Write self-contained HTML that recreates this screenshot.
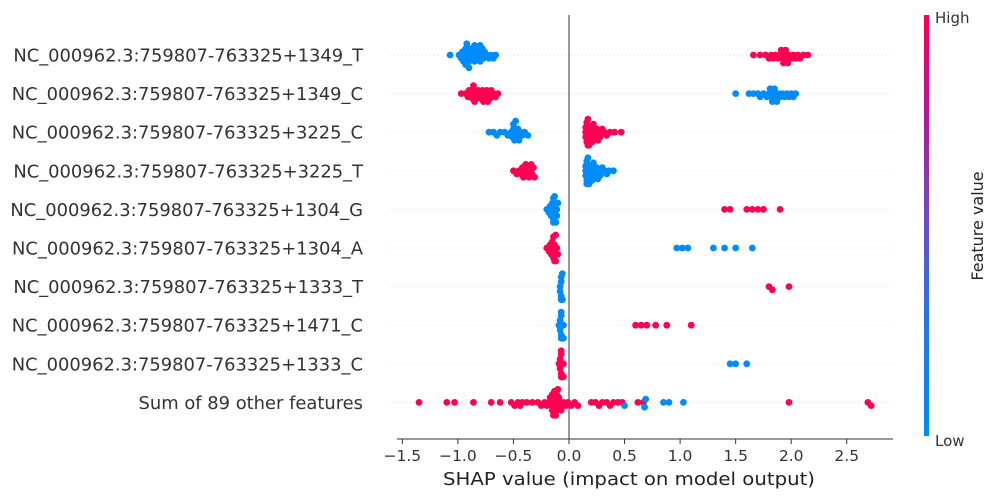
<!DOCTYPE html>
<html><head><meta charset="utf-8">
<style>
html,body{margin:0;padding:0;background:#fff;}
svg{display:block;font-family:"DejaVu Sans","Liberation Sans",sans-serif;}
</style></head>
<body>
<svg id="chart" width="997" height="497" viewBox="0 0 997 497">
<defs>
<linearGradient id="cb" x1="0" y1="1" x2="0" y2="0">
<stop offset="0" stop-color="#008bfb"/>
<stop offset="0.3" stop-color="#2a72e8"/>
<stop offset="0.55" stop-color="#7a44c4"/>
<stop offset="0.75" stop-color="#b4179c"/>
<stop offset="1" stop-color="#ff0052"/>
</linearGradient>
</defs>
<g id="grid"></g>
<line x1="569" y1="15" x2="569" y2="439" stroke="#999" stroke-width="2"/>
<g id="labels"></g>
<g id="dots"></g>
<g id="xaxis">
<line x1="397" y1="439" x2="893" y2="439" stroke="#333" stroke-width="1"/>
</g>
<text x="443" y="485" font-size="17.5" fill="#222" textLength="372" lengthAdjust="spacingAndGlyphs">SHAP value (impact on model output)</text>
<rect x="924" y="15" width="5" height="421" fill="url(#cb)"/>
<text x="935" y="23" font-size="15" fill="#333">High</text>
<text x="935" y="446" font-size="15" fill="#333">Low</text>
<text transform="translate(983,226) rotate(-90)" font-size="16" fill="#222" text-anchor="middle">Feature value</text>
</svg>
<script>
const features = ["NC_000962.3:759807-763325+1349_T","NC_000962.3:759807-763325+1349_C","NC_000962.3:759807-763325+3225_C","NC_000962.3:759807-763325+3225_T","NC_000962.3:759807-763325+1304_G","NC_000962.3:759807-763325+1304_A","NC_000962.3:759807-763325+1333_T","NC_000962.3:759807-763325+1471_C","NC_000962.3:759807-763325+1333_C","Sum of 89 other features"];
const tickValues = [-1.5,-1.0,-0.5,0.0,0.5,1.0,1.5,2.0,2.5];
const tickLabels = ["\u22121.5","\u22121.0","\u22120.5","0.0","0.5","1.0","1.5","2.0","2.5"];
const lowVals = [
 [-1.07,-0.99,-0.97,-0.96,-0.95,-0.94,-0.93,-0.93,-0.92,-0.92,-0.91,-0.9,-0.9,-0.89,-0.88,-0.87,-0.86,-0.85,-0.85,-0.84,-0.83,-0.82,-0.81,-0.8,-0.8,-0.79,-0.78,-0.77,-0.76,-0.74,-0.72,-0.7,-0.68,-0.66],
 [1.5,1.62,1.66,1.7,1.72,1.75,1.78,1.8,1.81,1.82,1.83,1.84,1.85,1.86,1.87,1.88,1.9,1.92,1.94,1.96,1.98,2.0,2.02,2.04],
 [-0.72,-0.68,-0.65,-0.62,-0.58,-0.55,-0.52,-0.51,-0.5,-0.5,-0.49,-0.48,-0.48,-0.47,-0.46,-0.45,-0.44,-0.42,-0.4,-0.37],
 [0.15,0.15,0.15,0.16,0.16,0.16,0.17,0.17,0.18,0.18,0.19,0.2,0.2,0.21,0.22,0.23,0.24,0.25,0.26,0.27,0.28,0.3,0.32,0.34,0.36,0.4],
 [-0.2,-0.18,-0.17,-0.16,-0.15,-0.15,-0.14,-0.14,-0.14,-0.13,-0.13,-0.13,-0.12,-0.12,-0.12,-0.11,-0.11,-0.1],
 [0.97,1.02,1.07,1.3,1.4,1.5,1.65],
 [-0.08,-0.08,-0.07,-0.07,-0.07,-0.07,-0.06,-0.06,-0.06,-0.06],
 [-0.09,-0.08,-0.08,-0.07,-0.07,-0.07,-0.07,-0.06,-0.06,-0.06,-0.05,-0.05],
 [1.45,1.5,1.6],
 [0.5,0.68,0.69,0.85,0.9,1.03]
];
const highVals = [
 [1.66,1.72,1.77,1.8,1.82,1.84,1.86,1.88,1.9,1.91,1.92,1.93,1.94,1.95,1.96,1.97,1.98,2.0,2.02,2.04,2.06,2.08,2.11,2.15],
 [-0.97,-0.93,-0.91,-0.9,-0.88,-0.87,-0.86,-0.86,-0.85,-0.84,-0.83,-0.82,-0.8,-0.79,-0.78,-0.77,-0.76,-0.75,-0.74,-0.73,-0.72,-0.71,-0.7,-0.68,-0.66,-0.64],
 [0.15,0.15,0.15,0.16,0.16,0.17,0.17,0.18,0.19,0.2,0.2,0.21,0.22,0.23,0.24,0.25,0.26,0.27,0.28,0.3,0.32,0.34,0.37,0.41,0.47],
 [-0.5,-0.47,-0.45,-0.43,-0.42,-0.41,-0.4,-0.39,-0.38,-0.37,-0.36,-0.35,-0.34,-0.33,-0.32,-0.31],
 [1.4,1.45,1.6,1.65,1.7,1.75,1.9],
 [-0.2,-0.18,-0.17,-0.16,-0.15,-0.15,-0.14,-0.14,-0.13,-0.13,-0.13,-0.12,-0.12,-0.11,-0.1],
 [1.8,1.83,1.98],
 [0.6,0.65,0.7,0.78,0.88,1.1],
 [-0.09,-0.08,-0.08,-0.07,-0.07,-0.07,-0.07,-0.06,-0.06,-0.06,-0.05,-0.05],
 [-1.35,-1.1,-1.03,-0.86,-0.7,-0.62,-0.52,-0.49,-0.46,-0.44,-0.42,-0.38,-0.33,-0.28,-0.25,-0.22,-0.2,-0.18,-0.17,-0.16,-0.15,-0.15,-0.14,-0.14,-0.13,-0.13,-0.12,-0.12,-0.11,-0.11,-0.1,-0.1,-0.09,-0.08,-0.07,-0.05,-0.03,-0.01,0.02,0.05,0.08,0.2,0.24,0.27,0.3,0.34,0.37,0.4,0.44,0.48,0.62,0.67,1.98,2.69,2.72]
];
const NS='http://www.w3.org/2000/svg';
const X0=569, XS=111.1, Y0=55, YS=38.6, R=3.4;
function xs(v){return X0+v*XS;}
function ys(i){return Y0+i*YS;}
const grid=document.getElementById('grid'), labels=document.getElementById('labels'), dotsG=document.getElementById('dots'), xaxis=document.getElementById('xaxis');
features.forEach((f,i)=>{
  const gl=document.createElementNS(NS,'line');
  gl.setAttribute('x1',390);gl.setAttribute('x2',893);gl.setAttribute('y1',ys(i));gl.setAttribute('y2',ys(i));
  gl.setAttribute('stroke','#ddd');gl.setAttribute('stroke-width','1');gl.setAttribute('stroke-dasharray','1,3');
  
  
  grid.appendChild(gl);
  const t=document.createElementNS(NS,'text');
  t.setAttribute('x',363);t.setAttribute('y',ys(i)+6.5);t.setAttribute('text-anchor','end');
  t.setAttribute('font-size','17.9');t.setAttribute('fill','#333');t.textContent=f;
  
  
  labels.appendChild(t);
  const pts=[];
  lowVals[i].forEach(v=>pts.push({v,c:'#008bfb'}));
  highVals[i].forEach(v=>pts.push({v,c:'#ff0052'}));
  pts.sort((a,b)=>a.v-b.v);
  const placed=[];
  pts.forEach(p=>{
    const px=xs(p.v);let off=0;
    for(let k=0;k<40;k++){
      const o=(k%2?1:-1)*Math.ceil(k/2)*1.6;
      const ok=placed.every(q=>Math.hypot(q.x-px,q.y-o)>=R*1.1);
      if(ok){off=o;break;}
    }
    off=Math.max(-13,Math.min(13,off));
    placed.push({x:px,y:off});
    const c=document.createElementNS(NS,'circle');
    c.setAttribute('cx',px);c.setAttribute('cy',ys(i)+off);c.setAttribute('r',R);c.setAttribute('fill',p.c);
    
    
    dotsG.appendChild(c);
  });
});
tickValues.forEach((v,k)=>{
  const tl=document.createElementNS(NS,'line');
  tl.setAttribute('x1',xs(v));tl.setAttribute('x2',xs(v));tl.setAttribute('y1',439);tl.setAttribute('y2',444);
  tl.setAttribute('stroke','#333');
  
  
  xaxis.appendChild(tl);
  const tt=document.createElementNS(NS,'text');
  tt.setAttribute('x',xs(v));tt.setAttribute('y',461);tt.setAttribute('text-anchor','middle');
  tt.setAttribute('font-size','15.5');tt.setAttribute('fill','#333');tt.textContent=tickLabels[k];
  
  
  xaxis.appendChild(tt);
});
</script>
</body></html>
